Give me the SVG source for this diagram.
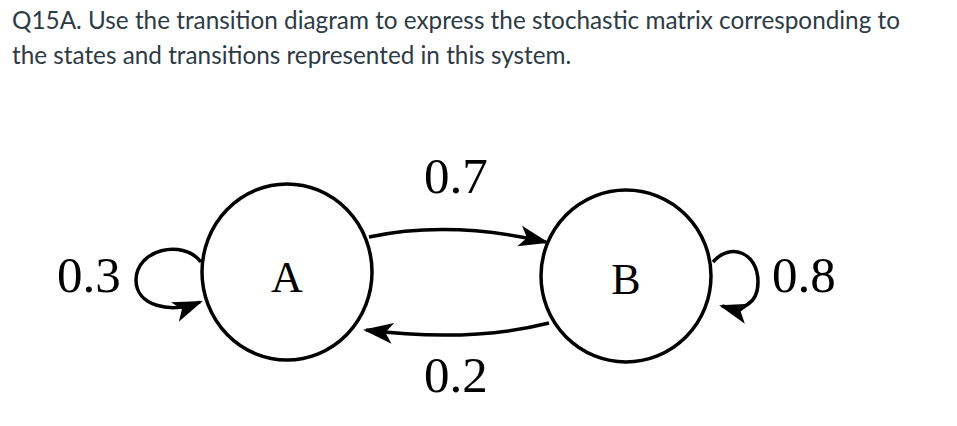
<svg xmlns="http://www.w3.org/2000/svg" width="957" height="426" viewBox="0 0 957 426">
<style>
.t{font-family:Lato,"Liberation Sans",sans-serif;font-size:24.3px;fill:#2d3b45}
.n{fill:#fff;stroke:#000;stroke-width:3.5}
.l{font-family:"Liberation Serif",serif;font-size:51px;fill:#000}
.m{font-family:"Liberation Serif",serif;font-size:44px;fill:#000}
.c{fill:none;stroke:#000;stroke-width:3.5}
</style>
<defs><marker id="ar" viewBox="0 0 10 10" refX="9" refY="5" markerWidth="38" markerHeight="30" markerUnits="userSpaceOnUse" orient="auto"><path d="M0,1.5 L10,5 L0,8.5 L2.5,5 Z" fill="#000"/></marker></defs>
<rect width="957" height="426" fill="#fff"/>
<text class="t" x="12" y="29">Q15A. Use the transition diagram to express the stochastic matrix corresponding to</text>
<text class="t" x="12" y="64">the states and transitions represented in this system.</text>
<g id="connectors">
<path class="c" d="M369,237 Q450,220 546,242" marker-end="url(#ar)"/>
<path class="c" d="M549,323 Q470,343 366,330" marker-end="url(#ar)"/>
<path class="c" d="M201,262 C182,238 136,250 136,280 C136,306 170,314 200,302" marker-end="url(#ar)"/>
<path class="c" d="M713,262 C730,242 758,252 758,282 C758,304 742,312 722,306" marker-end="url(#ar)"/>
<text class="l" x="424" y="193">0.7</text>
<text class="l" x="424" y="392">0.2</text>
<text class="l" x="57" y="292">0.3</text>
<text class="l" x="772" y="292">0.8</text>
</g>
<g id="A"><ellipse class="n" cx="287" cy="272" rx="85" ry="88"/><text class="m" x="287" y="292" text-anchor="middle">A</text></g>
<g id="B"><ellipse class="n" cx="626" cy="276" rx="85" ry="86"/><text class="m" x="626" y="294" text-anchor="middle">B</text></g>
</svg>
